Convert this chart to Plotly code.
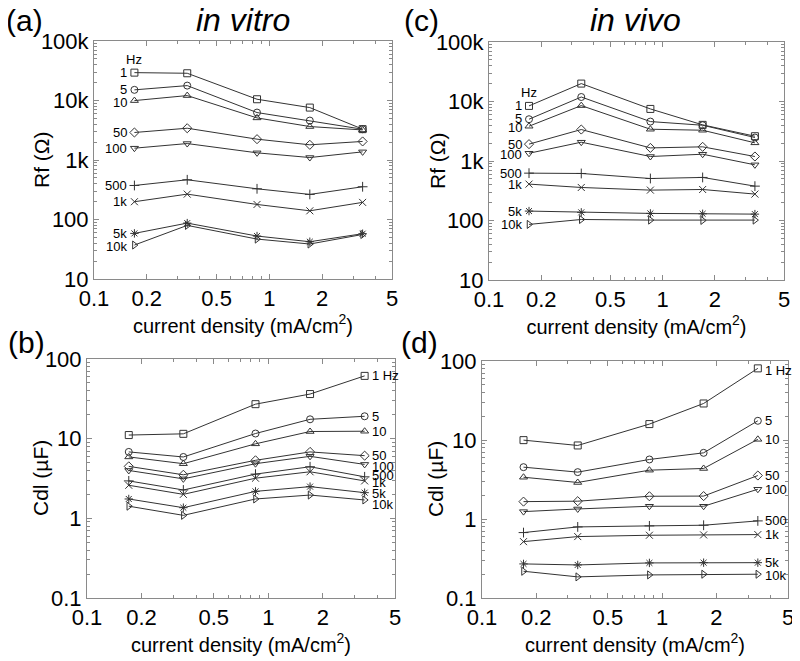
import math
import plotly.graph_objects as go

# current density (mA/cm^2)
current = [0.17, 0.34, 0.85, 1.7, 3.4]

freqs = ["1", "5", "10", "50", "100", "500", "1k", "5k", "10k"]
symbols = ["square-open", "circle-open", "triangle-up-open", "diamond-open",
           "triangle-down-open", "cross-thin-open", "x-thin-open",
           "asterisk-open", "triangle-right-open"]

# (a) Rf in vitro (ohm)
rf_vitro = [
    [29400, 28700, 10500, 7600, 3300],
    [15100, 17800, 6270, 4600, 3290],
    [9970, 12100, 5100, 3650, 3200],
    [2900, 3420, 2240, 1800, 2050],
    [1580, 1890, 1320, 1100, 1370],
    [373, 465, 328, 264, 355],
    [199, 267, 179, 140, 194],
    [58.4, 87, 52.7, 42.3, 57.7],
    [37.2, 79.6, 46.9, 38.7, 56],
]
# (c) Rf in vivo (ohm)
rf_vivo = [
    [8430, 20000, 7500, 4050, 2610],
    [5040, 11900, 4600, 3990, 2480],
    [3840, 8540, 3420, 3290, 2020],
    [1920, 3380, 1660, 1730, 1190],
    [1350, 2070, 1190, 1300, 862],
    [625, 617, 508, 529, 378],
    [409, 359, 324, 332, 278],
    [144, 137, 131.5, 129.7, 128],
    [86, 104, 101.6, 100.3, 101.6],
]
# (b) Cdl in vitro (uF)
cdl_vitro = [
    [11.1, 11.5, 27.1, 36.3, 61.4],
    [6.82, 5.89, 11.6, 17.5, 19.1],
    [5.9, 4.85, 8.61, 12.3, 12.4],
    [4.49, 3.52, 5.35, 6.82, 6.12],
    [3.99, 3.13, 4.85, 6.0, 4.75],
    [2.95, 2.27, 3.59, 4.44, 3.32],
    [2.60, 2.0, 3.19, 3.84, 2.95],
    [1.75, 1.36, 2.18, 2.50, 2.10],
    [1.42, 1.09, 1.75, 1.96, 1.70],
]
# (d) Cdl in vivo (uF)
cdl_vivo = [
    [9.96, 8.53, 15.9, 29.0, 80.7],
    [4.53, 3.92, 5.67, 6.88, 17.5],
    [3.38, 2.90, 4.15, 4.36, 10.2],
    [1.66, 1.68, 1.94, 1.95, 3.55],
    [1.24, 1.34, 1.45, 1.45, 2.38],
    [0.673, 0.794, 0.818, 0.834, 0.946],
    [0.517, 0.599, 0.623, 0.629, 0.635],
    [0.27, 0.262, 0.278, 0.28, 0.28],
    [0.218, 0.185, 0.196, 0.2, 0.2],
]

# label vertical nudges (px) for the side labels
rf_vitro_shift = [0, 0, -2, 0, 0, 0, 0, 0, -1]
rf_vivo_shift = [0, 1, -1, 0, -1, 0, 0, 0, 0]
cdl_vitro_shift = [0, 0, 0, 0, -2, 1, -2, -1, -5]
cdl_vivo_shift = [-2, 0, 0, 0, 0, 0, 0, 0, -1]

FONT = "Liberation Sans, Arial, sans-serif"
LINE = "#333333"
AX = "#8a8a8a"

# the page body has an 8px margin, so the figure is sized to fit the window
OFF = 8
W = 800.0 - OFF
H = 661.0 - OFF


def px(x):
    return (x - OFF) / W


def py(y):
    return 1 - (y - OFF) / H


def dx(a, b):
    return [px(a), px(b)]


def dy(top, bot):
    return [py(bot), py(top)]


fig = go.Figure()

panels = [
    ("x", "y", rf_vitro, "left", rf_vitro_shift),
    ("x2", "y2", rf_vivo, "left", rf_vivo_shift),
    ("x3", "y3", cdl_vitro, "right", cdl_vitro_shift),
    ("x4", "y4", cdl_vivo, "right", cdl_vivo_shift),
]

for xa, ya, data, side, shifts in panels:
    for i, vals in enumerate(data):
        fig.add_trace(go.Scatter(
            x=current, y=vals, xaxis=xa, yaxis=ya, mode="lines+markers",
            line=dict(color=LINE, width=1),
            marker=dict(symbol=symbols[i], size=7, color=LINE,
                        line=dict(color=LINE, width=1)),
            showlegend=False,
        ))

# series labels (annotation coords on log axes are log10 values)
lab_font = dict(family=FONT, size=13, color="black")
for xa, ya, data, side, shifts in panels:
    for i, vals in enumerate(data):
        if side == "left":
            fig.add_annotation(x=math.log10(current[0]), y=math.log10(vals[0]),
                               xref=xa, yref=ya, text=freqs[i], showarrow=False,
                               xanchor="right", yanchor="middle", xshift=-5,
                               yshift=shifts[i], font=lab_font)
        else:
            text = "1 Hz" if i == 0 else freqs[i]
            fig.add_annotation(x=math.log10(current[-1]), y=math.log10(vals[-1]),
                               xref=xa, yref=ya, text=text, showarrow=False,
                               xanchor="left", yanchor="middle", xshift=5,
                               yshift=shifts[i], font=lab_font)
    if side == "left":
        fig.add_annotation(x=math.log10(current[0]), y=math.log10(data[0][0]),
                           xref=xa, yref=ya, text="Hz", showarrow=False,
                           xanchor="center", yanchor="middle", yshift=13, font=lab_font)

xticks = [0.1, 0.2, 0.5, 1, 2, 5]
xminor = [0.3, 0.4, 0.6, 0.7, 0.8, 0.9, 3, 4]
rf_ticks = [10, 100, 1000, 10000, 100000]
rf_text = ["10", "100", "1k", "10k", "100k"]
cdl_ticks = [0.1, 1, 10, 100]
cdl_text = ["0.1", "1", "10", "100"]


def minor_decades(lo, hi):
    out = []
    d = lo
    while d < hi:
        out += [d * k for k in range(2, 10)]
        d *= 10
    return out


def xaxis(domain, anchor):
    return dict(
        type="log", range=[-1, 0.69897], domain=domain, anchor=anchor,
        tickvals=xticks, ticktext=[str(v) for v in xticks], automargin=False,
        ticks="inside", ticklen=5, tickcolor=AX, showline=True, linecolor=AX,
        mirror="allticks", showgrid=False, zeroline=False,
        tickfont=dict(family=FONT, size=22, color="black"),
        minor=dict(tickvals=xminor, ticks="inside", ticklen=3, tickcolor=AX),
        title=dict(text="current density (mA/cm<sup>2</sup>)", standoff=2,
                   font=dict(family=FONT, size=20, color="black")),
    )


def yaxis(domain, anchor, rng, tv, tt, lo, hi):
    return dict(
        type="log", range=rng, domain=domain, anchor=anchor, automargin=False,
        tickvals=tv, ticktext=tt,
        ticks="inside", ticklen=5, tickcolor=AX, showline=True, linecolor=AX,
        mirror="allticks", showgrid=False, zeroline=False,
        tickfont=dict(family=FONT, size=22, color="black"),
        minor=dict(tickvals=minor_decades(lo, hi), ticks="inside", ticklen=3, tickcolor=AX),
    )


fig.update_layout(
    width=W, height=H,
    margin=dict(l=0, r=0, t=0, b=0),
    paper_bgcolor="white", plot_bgcolor="white",
    font=dict(family=FONT, color="black"),
    xaxis=xaxis(dx(94, 392), "y"),
    yaxis=yaxis(dy(41, 279), "x", [1, 5], rf_ticks, rf_text, 10, 100000),
    xaxis2=xaxis(dx(489, 784), "y2"),
    yaxis2=yaxis(dy(42, 280), "x2", [1, 5], rf_ticks, rf_text, 10, 100000),
    xaxis3=xaxis(dx(87, 395), "y3"),
    yaxis3=yaxis(dy(359, 598), "x3", [-1, 2], cdl_ticks, cdl_text, 0.1, 100),
    xaxis4=xaxis(dx(482, 788), "y4"),
    yaxis4=yaxis(dy(361, 598), "x4", [-1, 2], cdl_ticks, cdl_text, 0.1, 100),
)

# y-axis titles
for txt, x, y in [("Rf (Ω)", 41, 160), ("Rf (Ω)", 438, 161),
                  ("Cdl (µF)", 40, 478), ("Cdl (µF)", 435, 479)]:
    fig.add_annotation(x=px(x), y=py(y), xref="paper", yref="paper", text=txt,
                       textangle=-90, showarrow=False, xanchor="center", yanchor="middle",
                       font=dict(family=FONT, size=21, color="black"))

# panel letters and titles
for txt, x, y in [("(a)", 24, 21), ("(c)", 421, 21), ("(b)", 26, 342), ("(d)", 419, 342)]:
    fig.add_annotation(x=px(x), y=py(y), xref="paper", yref="paper", text=txt,
                       showarrow=False, xanchor="center", yanchor="middle",
                       font=dict(family=FONT, size=30, color="black"))
for txt, x in [("<i>in vitro</i>", 243), ("<i>in vivo</i>", 635)]:
    fig.add_annotation(x=px(x), y=py(20), xref="paper", yref="paper", text=txt,
                       showarrow=False, xanchor="center", yanchor="middle",
                       font=dict(family=FONT, size=32, color="black"))

fig.write_html("out.html")
